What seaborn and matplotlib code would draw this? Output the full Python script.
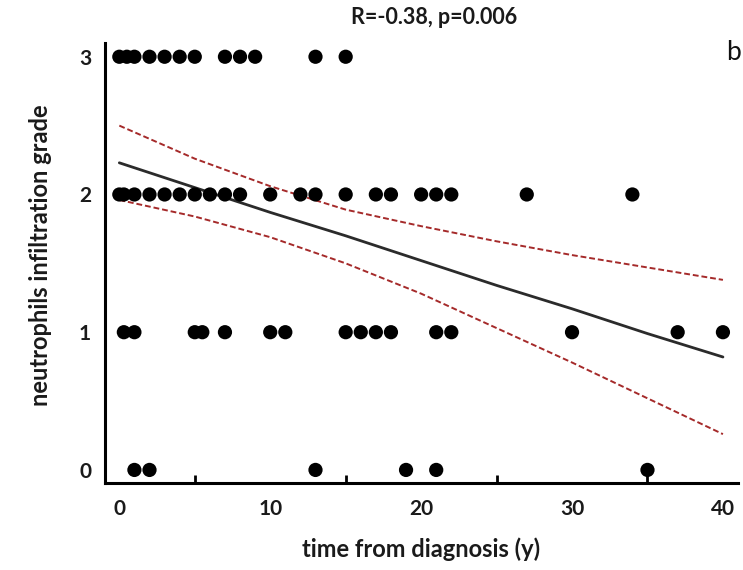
import numpy as np
import pandas as pd
import matplotlib
matplotlib.use("Agg")
import matplotlib.pyplot as plt
import seaborn as sns
from matplotlib.ticker import MultipleLocator

# Time from diagnosis (years) for patients at each neutrophil infiltration grade
time_grade3 = [0, 0.5, 1, 2, 3, 4, 5, 7, 8, 9, 13, 15]
time_grade2 = [0, 0.3, 1, 2, 3, 4, 5, 6, 7, 8, 10, 12, 13, 15, 17, 18, 20, 21, 22, 27, 34]
time_grade1 = [0.3, 1, 5, 5.5, 7, 10, 11, 15, 16, 17, 18, 21, 22, 30, 37, 40]
time_grade0 = [1, 2, 13, 19, 21, 35]

# Regression line and its 95% confidence limits
fit_time = [0, 5, 10, 15, 20, 25, 30, 35, 40]
fit_grade = [2.23, 2.05, 1.87, 1.70, 1.52, 1.34, 1.17, 0.99, 0.82]
ci_upper = [2.50, 2.26, 2.06, 1.89, 1.77, 1.66, 1.56, 1.47, 1.38]
ci_lower = [1.96, 1.84, 1.69, 1.50, 1.28, 1.03, 0.78, 0.52, 0.26]

title_text = "R=-0.38, p=0.006"
panel_label = "b"
x_label = "time from diagnosis (y)"
y_label = "neutrophils infiltration grade"

df = pd.DataFrame({
    "time": time_grade3 + time_grade2 + time_grade1 + time_grade0,
    "grade": [3] * len(time_grade3) + [2] * len(time_grade2)
             + [1] * len(time_grade1) + [0] * len(time_grade0),
})
fit = pd.DataFrame({"time": fit_time, "fit": fit_grade,
                    "hi": ci_upper, "lo": ci_lower})

sns.set_theme(style="white")
plt.rcParams["font.family"] = ["Lato", "DejaVu Sans"]

fig = plt.figure(figsize=(7.43, 5.70), dpi=100)
ax = fig.add_axes([0.1413, 0.1526, 0.852, 0.772])

dash_red = dict(color="#a52a2a", lw=1.4, linestyle=(0, (3, 1.5)), zorder=2)
sns.lineplot(data=fit, x="time", y="hi", ax=ax, **dash_red)
sns.lineplot(data=fit, x="time", y="lo", ax=ax, **dash_red)
sns.lineplot(data=fit, x="time", y="fit", ax=ax, color="#2b2b2b", lw=2.0, zorder=3)
sns.scatterplot(data=df, x="time", y="grade", ax=ax, color="black", s=105,
                edgecolor="none", zorder=4)

ax.set_xlim(-0.95, 41)
ax.set_ylim(-0.095, 3.1)
ax.set_yticks([0, 1, 2, 3])
ax.set_xticks([0, 10, 20, 30, 40])
ax.xaxis.set_minor_locator(MultipleLocator(5))
for side in ["top", "right"]:
    ax.spines[side].set_visible(False)
for side in ["left", "bottom"]:
    ax.spines[side].set_linewidth(2.2)
    ax.spines[side].set_color("black")
ax.tick_params(axis="both", which="major", direction="in", length=11, width=2,
               color="black", labelsize=15)
ax.tick_params(axis="x", which="major", pad=11.5)
ax.tick_params(axis="x", which="minor", direction="in", length=6, width=2,
               color="black", bottom=True)
ax.tick_params(axis="y", which="major", pad=10)
for lab in ax.get_xticklabels() + ax.get_yticklabels():
    lab.set_fontweight("bold")
    lab.set_color("#1a1a1a")

ax.set_xlabel(x_label, fontsize=17, fontweight="bold", color="#1a1a1a")
ax.set_ylabel(y_label, fontsize=17, fontweight="bold", color="#1a1a1a")
ax.xaxis.label.set_va("center")
ax.yaxis.label.set_va("center")
ax.xaxis.set_label_coords(0.499, -0.15)
ax.yaxis.set_label_coords(-0.1016, 0.518)

fig.text(434 / 743, 1 - 18 / 570, title_text, ha="center", va="center",
         fontsize=15.5, fontweight="bold", color="#1a1a1a")
fig.text(733 / 743, 1 - 52 / 570, panel_label, ha="center", va="center",
         fontsize=19, color="#111111")

fig.savefig("out.png", dpi=100)
